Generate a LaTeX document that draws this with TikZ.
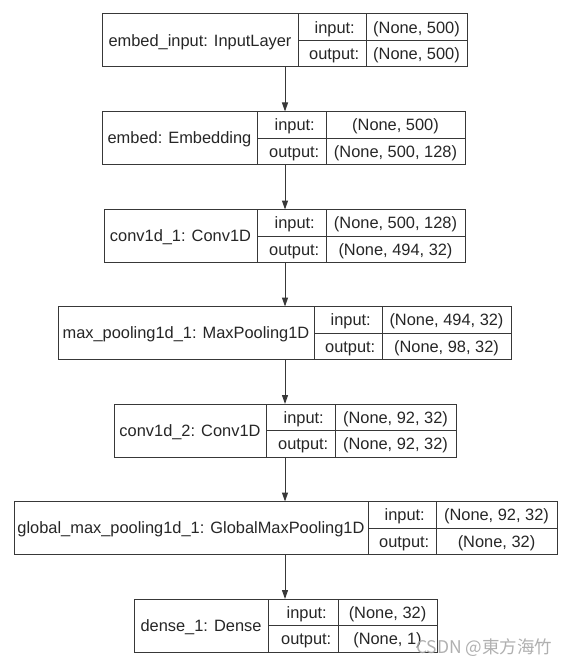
\documentclass[tikz,border=0pt]{standalone}
\usepackage{fontspec}
\setmainfont{Liberation Sans}
\newfontfamily\cjkfont{Noto Sans CJK SC}
\usetikzlibrary{arrows.meta}
\definecolor{ln}{HTML}{383838}
\definecolor{tx}{HTML}{262626}
\definecolor{wm}{HTML}{A8A8A8}
\tikzset{
  layerbox/.style={draw=ln, line width=1pt, rectangle, inner sep=0pt, outer sep=0pt},
  txt/.style={text=tx, inner sep=0pt, font=\fontsize{16.4}{19}\selectfont},
  flow/.style={draw=ln, line width=1pt, -{Triangle[length=9pt,width=6pt]}},
  divl/.style={draw=ln, line width=1pt}
}
% name, x1, x2, ytop, d1, d2, label, in, out
\newcommand{\klayer}[9]{%
  \node[layerbox, minimum width={(#3-#2)*1pt}, minimum height=53pt] (#1) at ({(#2+#3)/2},{#4+26.5}) {};
  \draw[divl] ({#5},{#4}) -- ({#5},{#4+53});
  \draw[divl] ({#6},{#4}) -- ({#6},{#4+53});
  \draw[divl] ({#5},{#4+26.5}) -- ({#3},{#4+26.5});
  \node[txt, anchor=base] (#1-l) at ({(#2+#5)/2},{#4+26.5+5.8}) {#7};
  \node[txt, anchor=base east] (#1-i) at ({#6-11},{#4+13.25+5.8}) {input:};
  \node[txt, anchor=base east] (#1-o) at ({#6-6.5},{#4+39.75+5.8}) {output:};
  \node[txt, anchor=base] (#1-iv) at ({(#6+#3)/2},{#4+13.25+5.8}) {#8};
  \node[txt, anchor=base] (#1-ov) at ({(#6+#3)/2},{#4+39.75+5.8}) {#9};
}
\begin{document}
\begin{tikzpicture}[x=1pt,y=-1pt]
\useasboundingbox[fill=white] (0,0) rectangle (569,666);
\coordinate (axis) at (285,0);
\klayer{b1}{102}{467}{14}{298}{366}{embed\_input: InputLayer}{(None, 500)}{(None, 500)}
\klayer{b2}{102}{465}{111.5}{257}{326}{embed: Embedding}{(None, 500)}{(None, 500, 128)}
\klayer{b3}{104}{465}{209.5}{257}{326}{conv1d\_1: Conv1D}{(None, 500, 128)}{(None, 494, 32)}
\klayer{b4}{58}{511}{306.5}{314}{382}{max\_pooling1d\_1: MaxPooling1D}{(None, 494, 32)}{(None, 98, 32)}
\klayer{b5}{114}{456}{404}{266}{335}{conv1d\_2: Conv1D}{(None, 92, 32)}{(None, 92, 32)}
\klayer{b6}{14}{557}{501.5}{368}{436}{global\_max\_pooling1d\_1: GlobalMaxPooling1D}{(None, 92, 32)}{(None, 32)}
\klayer{b7}{134}{437}{599}{268}{338}{dense\_1: Dense}{(None, 32)}{(None, 1)}
\draw[flow] (axis |- b1.south) -- (axis |- b2.north);
\draw[flow] (axis |- b2.south) -- (axis |- b3.north);
\draw[flow] (axis |- b3.south) -- (axis |- b4.north);
\draw[flow] (axis |- b4.south) -- (axis |- b5.north);
\draw[flow] (axis |- b5.south) -- (axis |- b6.north);
\draw[flow] (axis |- b6.south) -- (axis |- b7.north);
\node[text=wm, inner sep=0pt, anchor=base west, font=\cjkfont\fontsize{17.5}{20}\selectfont, opacity=0.9] (wmark) at (416,653) {CSDN @東方海竹};
\end{tikzpicture}
\end{document}
